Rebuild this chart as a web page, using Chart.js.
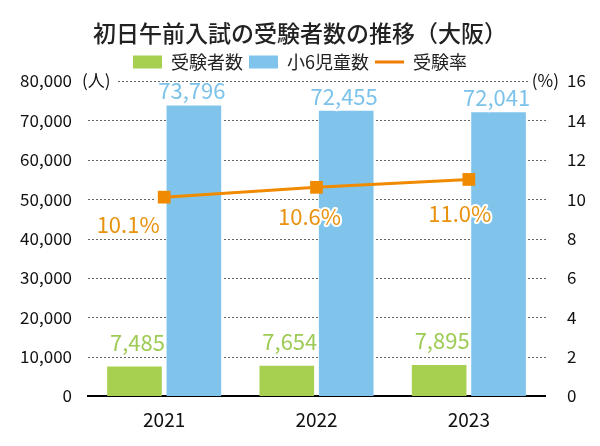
<!DOCTYPE html>
<html>
<head>
<meta charset="utf-8">
<script src="https://cdn.jsdelivr.net/npm/chart.js@4.4.0/dist/chart.umd.min.js"></script>
<style>
  html, body { margin: 0; padding: 0; background: #fff; }
</style>
</head>
<body>
<canvas id="myChart" width="600" height="446"></canvas>
<script>
// データ
const years = ['2021', '2022', '2023'];
const examinees = [7485, 7654, 7895];      // 受験者数
const grade6 = [73796, 72455, 72041];      // 小6児童数
const rate = [10.1, 10.6, 11.0];           // 受験率 (%)

const FONT = '"Noto Sans CJK JP", "Noto Sans", sans-serif';
const GREEN = '#a7cf50';
const BLUE = '#80c4ec';
const ORANGE = '#f08a00';

// 受験率ラベルの位置ずらし (点からの x, y)
const rateLabelShift = [[-36, 36], [-7, 38], [-9, 43]];

const fmt = v => v.toLocaleString('en-US');

const labelPlugin = {
  id: 'valueLabels',
  afterDatasetsDraw(chart) {
    const ctx = chart.ctx;
    ctx.save();
    ctx.font = '22px ' + FONT;
    ctx.textAlign = 'center';
    ctx.textBaseline = 'alphabetic';
    ctx.lineJoin = 'round';
    ctx.lineWidth = 4;
    ctx.strokeStyle = '#fff';
    const draw = (txt, x, y, color) => {
      ctx.strokeText(txt, x, y);
      ctx.fillStyle = color;
      ctx.fillText(txt, x, y);
    };
    chart.getDatasetMeta(0).data.forEach((el, i) => draw(fmt(examinees[i]), el.x + 3, el.y - 16, '#9dcb55'));
    chart.getDatasetMeta(1).data.forEach((el, i) => draw(fmt(grade6[i]), el.x - 2, el.y - 6, '#7cc2ea'));
    chart.getDatasetMeta(2).data.forEach((el, i) =>
      draw(rate[i].toFixed(1) + '%', el.x + rateLabelShift[i][0], el.y + rateLabelShift[i][1], '#e8920e'));
    ctx.restore();
  },
  afterDraw(chart) {
    const ctx = chart.ctx;
    const area = chart.chartArea;
    const y = chart.scales.y;
    const y0 = y.getPixelForValue(80000);

    // 棒と点のある範囲 (目盛線はそこを避ける)
    const blocks = [];
    [0, 1].forEach(d => chart.getDatasetMeta(d).data.forEach(el => {
      const p = el.getProps(['x', 'y', 'base', 'width'], true);
      blocks.push({ x0: p.x - p.width / 2, x1: p.x + p.width / 2, y0: p.y, y1: p.base });
    }));
    chart.getDatasetMeta(2).data.forEach(el => {
      blocks.push({ x0: el.x - 8, x1: el.x + 8, y0: el.y - 8, y1: el.y + 8 });
    });

    ctx.save();
    ctx.globalAlpha = 1;
    ctx.globalCompositeOperation = 'source-over';

    // 点線の目盛線
    ctx.fillStyle = '#666';
    y.ticks.forEach(t => {
      if (t.value === 0) return;
      const py = Math.round(y.getPixelForValue(t.value));
      const x0 = t.value === y.max ? 118 : area.left;
      const x1 = t.value === y.max ? 527 : area.right;
      for (let x = x0; x < x1; x += 4) {
        const hit = blocks.some(b => py >= b.y0 && py <= b.y1 && x + 2 > b.x0 && x < b.x1);
        if (!hit) ctx.fillRect(x, py, 2, 1);
      }
    });

    // 単位 (人) (%)
    ctx.font = '17px ' + FONT;
    ctx.textBaseline = 'middle';
    ctx.fillStyle = '#111';
    ctx.textAlign = 'left';
    ctx.fillText('(人)', 82, y0);
    ctx.textAlign = 'right';
    ctx.fillText('(%)', 559, y0);
    ctx.restore();
  }
};

const ctx = document.getElementById('myChart');
new Chart(ctx, {
  type: 'bar',
  data: {
    labels: years,
    datasets: [
      {
        label: '受験者数',
        data: examinees,
        backgroundColor: GREEN,
        yAxisID: 'y',
        order: 1,
        categoryPercentage: 0.78,
        barPercentage: 0.92
      },
      {
        label: '小6児童数',
        data: grade6,
        backgroundColor: BLUE,
        yAxisID: 'y',
        order: 1,
        categoryPercentage: 0.78,
        barPercentage: 0.92
      },
      {
        type: 'line',
        label: '受験率',
        data: rate,
        borderColor: ORANGE,
        backgroundColor: ORANGE,
        borderWidth: 3,
        pointStyle: 'rect',
        pointRadius: 9,
        pointBorderWidth: 0,
        pointBackgroundColor: ORANGE,
        yAxisID: 'y1',
        order: 0
      }
    ]
  },
  options: {
    responsive: false,
    animation: false,
    layout: { padding: 0 },
    plugins: {
      title: {
        display: true,
        text: '初日午前入試の受験者数の推移（大阪）',
        color: '#222',
        font: { family: FONT, size: 23, weight: '500' },
        padding: { top: 8, bottom: 0 }
      },
      legend: {
        display: true,
        labels: {
          color: '#222',
          font: { family: FONT, size: 18 },
          usePointStyle: true,
          pointStyleWidth: 29,
          boxHeight: 13,
          padding: 6,
          generateLabels(chart) {
            return chart.data.datasets.map((ds, i) => {
              const isLine = ds.type === 'line';
              return {
                text: ds.label,
                fillStyle: ds.backgroundColor,
                strokeStyle: isLine ? '#f07d00' : ds.backgroundColor,
                lineWidth: isLine ? 3 : 0,
                pointStyle: isLine ? 'line' : 'rect',
                fontColor: '#222',
                datasetIndex: i
              };
            });
          }
        }
      },
      tooltip: { enabled: false }
    },
    scales: {
      x: {
        grid: { display: true, drawOnChartArea: false, drawTicks: false },
        border: { display: true, color: '#000', width: 2 },
        ticks: { color: '#111', font: { family: FONT, size: 19 }, padding: 12 },
        afterFit(s) { s.height = 50; }
      },
      y: {
        position: 'left',
        min: 0,
        max: 80000,
        ticks: {
          stepSize: 10000,
          color: '#111',
          font: { family: FONT, size: 17 },
          padding: 8,
          callback: v => fmt(v)
        },
        grid: { display: false },
        border: { display: false },
        afterFit(s) { s.width = 88; s.paddingTop = 81; }
      },
      y1: {
        position: 'right',
        min: 0,
        max: 16,
        ticks: {
          stepSize: 2,
          color: '#111',
          font: { family: FONT, size: 17 },
          padding: 14
        },
        grid: { display: false },
        border: { display: false },
        afterFit(s) { s.width = 55; }
      }
    }
  },
  plugins: [labelPlugin]
});
</script>
</body>
</html>
